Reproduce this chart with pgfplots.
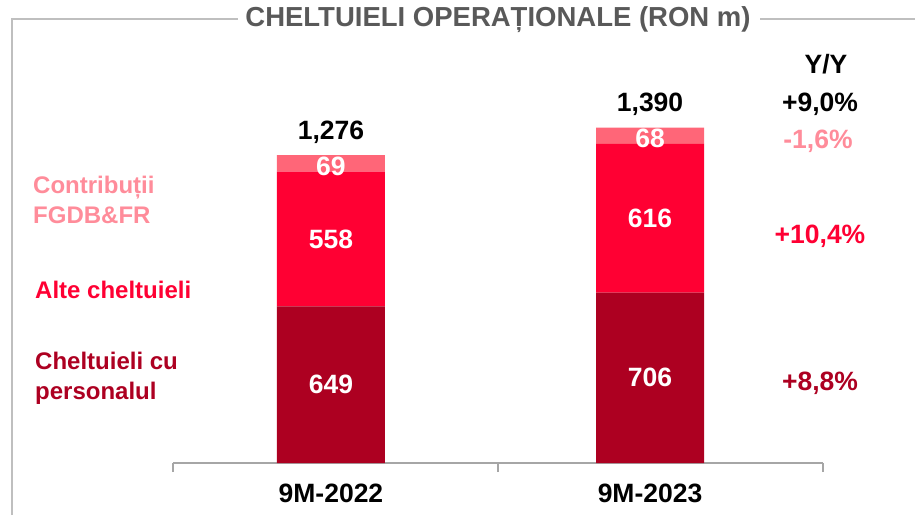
\documentclass[border=0pt]{standalone}
\usepackage{fontspec}
\setmainfont{Liberation Sans}
\usepackage{pgfplots}
\pgfplotsset{compat=1.18}

\definecolor{persRed}{HTML}{AD0021}
\definecolor{alteRed}{HTML}{FF0033}
\definecolor{contribPink}{HTML}{FF6678}
\definecolor{labelPink}{HTML}{FF8C9A}
\definecolor{titleGray}{HTML}{595959}
\definecolor{lineGray}{HTML}{A6A6A6}
\definecolor{frameGray}{HTML}{BFBFBF}

\tikzset{
  big/.style={font=\fontsize{26.5}{31}\selectfont\bfseries, inner sep=0pt},
  side/.style={font=\fontsize{24}{30}\selectfont\bfseries, inner sep=0pt, anchor=west, align=left},
}

\begin{document}
\begin{tikzpicture}[x=1pt,y=1pt]
\useasboundingbox (0,0) rectangle (915,515);

% title frame
\draw[frameGray, line width=1.2pt] (12,0) -- (12,496) -- (238,496);
\draw[frameGray, line width=1.2pt] (760,496) -- (915,496);
\node[font=\fontsize{27.5}{31}\selectfont\bfseries, inner sep=0pt, text=titleGray] at (498,495) {CHELTUIELI OPERAȚIONALE (RON m)};

\begin{axis}[
  at={(173pt,52pt)}, anchor=south west,
  scale only axis, width=650pt, height=362pt,
  ybar stacked, bar width=108pt,
  xmin=-0.495, xmax=1.542, ymin=0, ymax=1500,
  axis x line*=bottom, axis y line=none,
  xtick={-0.495,0.523,1.542}, xticklabels={},
  tick align=outside, major tick length=9pt,
  x axis line style={lineGray, line width=1.5pt, -},
  every tick/.style={lineGray, line width=1.5pt},
  clip=false,
]
% Cheltuieli cu personalul
\addplot[fill=persRed, draw=none] coordinates {(0,649) (1,706)};
% Alte cheltuieli
\addplot[fill=alteRed, draw=none] coordinates {(0,558) (1,616)};
% Contributii FGDB&FR
\addplot[fill=contribPink, draw=none] coordinates {(0,69) (1,68)};

% anchor points for the labels (drawn after the axis, above the bars)
\coordinate (p22) at (axis cs:0,324.5);
\coordinate (a22) at (axis cs:0,928);
\coordinate (c22) at (axis cs:0,1241.5);
\coordinate (p23) at (axis cs:1,353);
\coordinate (a23) at (axis cs:1,1014);
\coordinate (c23) at (axis cs:1,1356);
\coordinate (t22) at (axis cs:0,1276);
\coordinate (t23) at (axis cs:1,1390);
\coordinate (x22) at (axis cs:0,0);
\coordinate (x23) at (axis cs:1,0);
\end{axis}

% segment values
\node[big, text=white] at (p22) {649};
\node[big, text=white] at (a22) {558};
\node[big, text=white, yshift=-3pt] at (c22) {69};
\node[big, text=white] at (p23) {706};
\node[big, text=white] at (a23) {616};
\node[big, text=white, yshift=-3pt] at (c23) {68};
% totals
\node[big, yshift=23pt] at (t22) {1,276};
\node[big, yshift=23pt] at (t23) {1,390};
% categories
\node[big, yshift=-30pt] at (x22) {9M-2022};
\node[big, yshift=-30pt] at (x23) {9M-2023};

% Y/Y column
\node[big] at (826,451) {Y/Y};
\node[big] at (820,411) {+9,0\%};
\node[big, text=labelPink] at (818,374) {-1,6\%};
\node[big, text=alteRed] at (820,279) {+10,4\%};
\node[big, text=persRed] at (820,132) {+8,8\%};

% series names
\node[side, text=labelPink] at (33,315) {Contribuții\\FGDB\&FR};
\node[side, text=alteRed] at (35,225) {Alte cheltuieli};
\node[side, text=persRed] at (35,137) {Cheltuieli cu\\personalul};
\end{tikzpicture}
\end{document}
